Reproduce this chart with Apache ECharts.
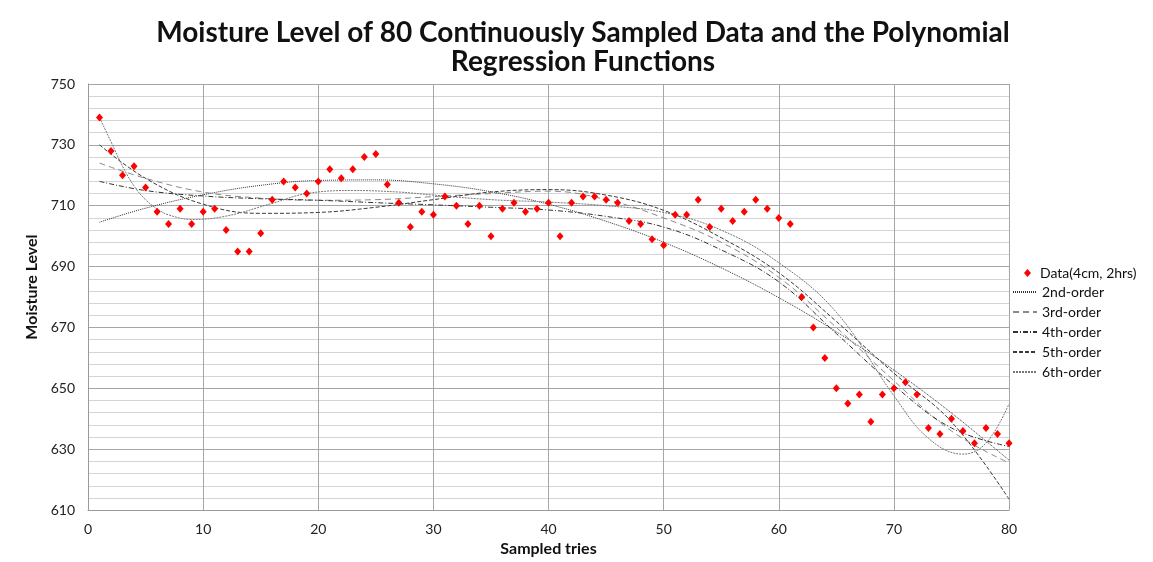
<!DOCTYPE html>
<html>
<head>
<meta charset="utf-8">
<title>Moisture Level</title>
<script src="https://cdn.jsdelivr.net/npm/echarts@6/dist/echarts.min.js"></script>
<style>
  html, body { margin: 0; padding: 0; background: #fff; }
  #chart { width: 1153px; height: 562px; }
</style>
</head>
<body>
<div id="chart"></div>
<script>
// measured moisture, tries 1..80
const moisture = [
  739, 728, 720, 723, 716, 708, 704, 709, 704, 708,
  709, 702, 695, 695, 701, 712, 718, 716, 714, 718,
  722, 719, 722, 726, 727, 717, 711, 703, 708, 707,
  713, 710, 704, 710, 700, 709, 711, 708, 709, 711,
  700, 711, 713, 713, 712, 711, 705, 704, 699, 697,
  707, 707, 712, 703, 709, 705, 708, 712, 709, 706,
  704, 680, 670, 660, 650, 645, 648, 639, 648, 650,
  652, 648, 637, 635, 640, 636, 632, 637, 635, 632
]

// regression curves as [try, level]
const order2 = [[1, 704.6], [5, 709.2], [10, 713.6], [15, 716.7], [20, 718.3], [25, 718.5], [30, 717.2], [35, 714.6], [40, 710.5], [45, 704.9], [50, 698], [55, 689.6], [60, 679.8], [65, 668.6], [70, 656], [75, 641.9], [80, 626.4]]
const order3 = [[1, 724], [5, 719], [10, 714.5], [15, 712.5], [20, 711.8], [25, 712], [30, 713], [35, 714], [40, 714.8], [45, 712], [50, 706], [55, 698], [60, 686.5], [65, 670], [70, 652.5], [75, 636], [80, 625.5]]
const order4 = [[1, 718], [5, 715], [10, 713.2], [15, 712.3], [20, 711.8], [25, 711], [30, 710.3], [35, 709.5], [40, 708.6], [45, 706.5], [50, 703], [55, 695.5], [60, 685], [65, 668], [70, 651], [75, 637], [80, 630.9]]
const order5 = [[1, 730], [5, 719], [10, 710.5], [15, 707.5], [20, 707.8], [25, 709.5], [30, 712], [35, 714.5], [40, 715.3], [45, 713.5], [50, 708.5], [55, 699.5], [60, 688], [65, 672], [70, 655], [75, 639], [80, 613.6]]
const order6 = [[1, 739], [2, 731], [3, 723], [4, 716.5], [5, 712], [6, 709], [7, 707], [9, 705.5], [12, 706.6], [16, 710.8], [19, 714], [23, 715], [27, 714.5], [30, 713.5], [35, 712], [40, 711.2], [45, 710], [50, 707.8], [55, 702], [60, 691.3], [65, 675], [70, 647.6], [73, 633.6], [76, 628.4], [78, 632], [80, 644.9]]

const xTicks = { min: 0, max: 80, step: 10 }
const yTicks = { min: 610, max: 750, step: 20 }

const chart = echarts.init(document.getElementById('chart'))

function curve(name, data, type, color) {
  return {
    name: name,
    type: 'line',
    data: data,
    smooth: 0.4,
    symbol: 'none',
    showSymbol: false,
    lineStyle: { width: 1, type: type, color: color },
    itemStyle: { color: color },
    z: 2
  }
}

// line entries of the legend: only the stroke, no marker
const lineLegend = ['2nd-order', '3rd-order', '4th-order', '5th-order', '6th-order'].map(n => ({
  name: n,
  itemStyle: { opacity: 0 }
}))

const legendText = { fontFamily: 'Lato', fontSize: 14, lineHeight: 14, color: '#111' }

const option = {
  backgroundColor: '#fff',
  animation: false,
  textStyle: { fontFamily: 'Lato' },
  title: {
    text: 'Moisture Level of 80 Continuously Sampled Data and the Polynomial\nRegression Functions',
    left: 578,
    top: 13,
    textAlign: 'center',
    textStyle: {
      fontFamily: 'Lato',
      fontWeight: 'bold',
      fontSize: 28,
      lineHeight: 29,
      color: '#111'
    }
  },
  grid: { left: 88, right: 144, top: 84, bottom: 46, containLabel: false },
  legend: [
    {
      orient: 'vertical',
      left: 1024,
      top: 266,
      padding: 0,
      itemWidth: 7,
      itemHeight: 8,
      textStyle: Object.assign({ padding: [0, 0, 0, 4] }, legendText),
      data: [{ name: 'Data(4cm, 2hrs)', icon: 'diamond' }]
    },
    {
      orient: 'vertical',
      left: 1012,
      top: 285,
      padding: 0,
      itemWidth: 24,
      itemHeight: 8,
      itemGap: 6,
      textStyle: legendText,
      data: lineLegend
    }
  ],
  xAxis: {
    type: 'value',
    min: xTicks.min,
    max: xTicks.max,
    interval: xTicks.step,
    name: 'Sampled tries',
    nameLocation: 'middle',
    nameGap: 28,
    nameTextStyle: { fontFamily: 'Lato', fontWeight: 'bold', fontSize: 16, color: '#111' },
    axisLine: { lineStyle: { color: '#999' } },
    axisTick: { show: false },
    axisLabel: { margin: 12, fontSize: 14, color: '#222' },
    splitLine: { lineStyle: { color: '#a6a6a6' } }
  },
  yAxis: {
    type: 'value',
    min: yTicks.min,
    max: yTicks.max,
    interval: yTicks.step,
    name: 'Moisture Level',
    nameLocation: 'middle',
    nameGap: 48,
    nameTextStyle: { fontFamily: 'Lato', fontWeight: 'bold', fontSize: 16, color: '#111', padding: [0, 0, 0, 20] },
    axisLine: { show: true, lineStyle: { color: '#999' } },
    axisTick: { show: false },
    axisLabel: { margin: 13, fontSize: 14, color: '#222' },
    splitLine: { lineStyle: { color: '#a6a6a6' } },
    minorTick: { show: false, splitNumber: 5 },
    minorSplitLine: { show: true, lineStyle: { color: '#d4d4d4' } }
  },
  series: [
    {
      name: 'Data(4cm, 2hrs)',
      type: 'scatter',
      data: moisture.map((v, i) => [i + 1, v]),
      symbol: 'diamond',
      symbolSize: [7, 8],
      itemStyle: { color: '#ff0000', opacity: 1 },
      z: 5
    },
    curve('2nd-order', order2, [1, 1], '#333'),
    curve('3rd-order', order3, [6, 4], '#8a8a8a'),
    curve('4th-order', order4, [5, 2, 1, 2], '#333'),
    curve('5th-order', order5, [4, 2], '#3a3a3a'),
    curve('6th-order', order6, [2, 1], '#777')
  ]
}

chart.setOption(option)
</script>
</body>
</html>
